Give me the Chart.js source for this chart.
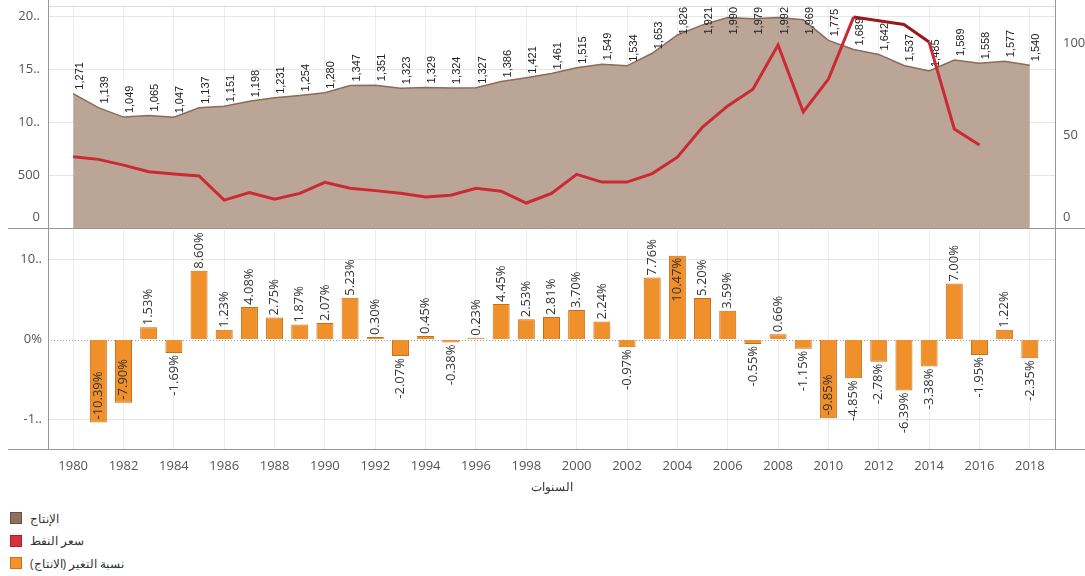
<!DOCTYPE html>
<html>
<head>
<meta charset="utf-8">
<script src="https://cdn.jsdelivr.net/npm/chart.js@4.4.1/dist/chart.umd.min.js"></script>
<style>
body { margin: 0; background: #fff; width: 1085px; height: 576px; overflow: hidden; position: relative; font-family: 'Open Sans', sans-serif; }
#top { position: absolute; left: 0; top: 0; }
#bottom { position: absolute; left: 0; top: 229px; }
.legend { position: absolute; left: 10px; top: 507px; font-size: 12px; color: #333; }
.legend div { display: flex; align-items: center; height: 22.5px; }
.legend i { display: inline-block; width: 10px; height: 10px; margin-right: 8px; border: 1px solid; }
</style>
</head>
<body>
<canvas id="top" width="1085" height="229"></canvas>
<canvas id="bottom" width="1085" height="271"></canvas>
<div class="legend">
  <div><i style="background:#8e7062;border-color:#6a4e40"></i><span dir="rtl">الإنتاج</span></div>
  <div><i style="background:#d8323d;border-color:#a8202a"></i><span dir="rtl">سعر النفط</span></div>
  <div><i style="background:#f0952b;border-color:#c8701a"></i><span dir="rtl">نسبة التغير (الانتاج)</span></div>
</div>
<script>
const years = [1980, 1981, 1982, 1983, 1984, 1985, 1986, 1987, 1988, 1989,
    1990, 1991, 1992, 1993, 1994, 1995, 1996, 1997, 1998, 1999,
    2000, 2001, 2002, 2003, 2004, 2005, 2006, 2007, 2008, 2009,
    2010, 2011, 2012, 2013, 2014, 2015, 2016, 2017, 2018];

// الإنتاج
const production = [1271, 1139, 1049, 1065, 1047, 1137, 1151, 1198, 1231, 1254,
    1280, 1347, 1351, 1323, 1329, 1324, 1327, 1386, 1421, 1461,
    1515, 1549, 1534, 1653, 1826, 1921, 1990, 1979, 1992, 1969,
    1775, 1689, 1642, 1537, 1485, 1589, 1558, 1577, 1540];

// سعر النفط (1980 - 2016)
const oilPrice = [38.5, 37.1, 34, 30.4, 29.2, 28.1, 15.1, 19.1, 15.5, 18.7,
    24.7, 21.5, 20.2, 18.8, 16.7, 17.7, 21.5, 19.9, 13.5, 18.7,
    29, 24.8, 24.8, 29.4, 38.3, 54.6, 66, 75, 98.9, 62.7,
    80.5, 114, 112, 110, 100.5, 53.5, 44.9];

// نسبة التغير (1981 - 2018)
const changePct = [-10.39, -7.90, 1.53, -1.69, 8.60, 1.23, 4.08, 2.75, 1.87,
    2.07, 5.23, 0.30, -2.07, 0.45, -0.38, 0.23, 4.45, 2.53, 2.81,
    3.70, 2.24, -0.97, 7.76, 10.47, 5.20, 3.59, -0.55, 0.66, -1.15,
    -9.85, -4.85, -2.78, -6.39, -3.38, 7.00, -1.95, 1.22, -2.35];

const yearTicks = years.filter(y => y % 2 === 0);
const prodTicks = [0, 500, 1000, 1500, 2000];
const prodTickLabels = ['0', '500', '10..', '15..', '20..'];
const priceTicks = [0, 50, 100];
const pctTicks = [-10, 0, 10];
const pctTickLabels = ['-1..', '0%', '10..'];

const tickFont = { family: 'Open Sans', size: 13 };

// fixed axis width, and no extra room kept for half tick labels
function fixWidth(w) {
    return s => {
        s.width = w;
        s.paddingTop = 0;
        s.paddingBottom = 0;
    };
}

// plot frame: side lines + long bottom line
const frame = {
    id: 'frame',
    beforeDatasetsDraw(chart) {
        if (chart.canvas.id !== 'bottom') return;
        const { ctx, chartArea: a } = chart;
        const y0 = Math.round(chart.scales.y.getPixelForValue(0)) + 0.5;
        ctx.save();
        ctx.strokeStyle = '#9a9a9a';
        ctx.setLineDash([1, 2]);
        ctx.beginPath();
        ctx.moveTo(a.left, y0);
        ctx.lineTo(a.right, y0);
        ctx.stroke();
        ctx.restore();
    },
    afterDraw(chart) {
        const { ctx, chartArea: a, width } = chart;
        ctx.save();
        if (chart.canvas.id === 'top') {
            ctx.strokeStyle = '#dddddd';
            ctx.beginPath();
            ctx.moveTo(a.left, a.top + 0.5);
            ctx.lineTo(a.right, a.top + 0.5);
            ctx.stroke();
            // the zero labels sit a little above the bottom edge
            ctx.font = '13px "Open Sans"';
            ctx.fillStyle = '#555';
            ctx.textBaseline = 'middle';
            ctx.textAlign = 'right';
            ctx.fillText('0', a.left - 8, a.bottom - 11);
            ctx.textAlign = 'left';
            ctx.fillText('0', a.right + 8, a.bottom - 11);
        }
        ctx.strokeStyle = '#999999';
        ctx.lineWidth = 1;
        ctx.beginPath();
        ctx.moveTo(a.left + 0.5, 0);
        ctx.lineTo(a.left + 0.5, a.bottom);
        ctx.moveTo(a.right + 0.5, 0);
        ctx.lineTo(a.right + 0.5, a.bottom);
        ctx.moveTo(8, a.bottom + 0.5);
        ctx.lineTo(width, a.bottom + 0.5);
        ctx.stroke();
        ctx.restore();
    }
};

// production labels, drawn right after the area so the price line goes over them
const prodLabels = {
    id: 'prodLabels',
    afterDatasetDraw(chart, args) {
        if (args.index !== 0) return;
        const { ctx, chartArea: a } = chart;
        ctx.save();
        ctx.font = '11px "Liberation Sans"';
        ctx.fillStyle = '#222222';
        ctx.textAlign = 'left';
        ctx.textBaseline = 'top';
        args.meta.data.forEach((pt, i) => {
            const txt = production[i].toLocaleString('en-US');
            const w = ctx.measureText(txt).width;
            let y = pt.y - 4;
            if (y - w < a.top + 1) y = a.top + 1 + w;
            ctx.save();
            ctx.translate(pt.x + 1, y);
            ctx.rotate(-Math.PI / 2);
            ctx.fillText(txt, 0, 0);
            ctx.restore();
        });
        ctx.restore();
    }
};

const pctLabels = {
    id: 'pctLabels',
    afterDatasetsDraw(chart) {
        const { ctx, chartArea: a } = chart;
        const meta = chart.getDatasetMeta(0);
        ctx.save();
        ctx.font = '13px "Open Sans"';
        ctx.fillStyle = '#333333';
        ctx.textBaseline = 'middle';
        meta.data.forEach((bar, i) => {
            const v = changePct[i];
            const txt = v.toFixed(2) + '%';
            const w = ctx.measureText(txt).width;
            let y, align;
            if (v >= 0) {
                if (bar.y - 2 - w >= a.top) { y = bar.y - 2; align = 'left'; }
                else { y = bar.y + 2; align = 'right'; }
            } else {
                if (bar.y + 2 + w <= a.bottom - 8) { y = bar.y + 2; align = 'right'; }
                else { y = bar.y - 3; align = 'left'; }
            }
            ctx.save();
            ctx.translate(bar.x, y);
            ctx.rotate(-Math.PI / 2);
            ctx.textAlign = align;
            ctx.fillText(txt, 0, 0);
            ctx.restore();
        });
        ctx.restore();
    }
};

new Chart(document.getElementById('top'), {
    type: 'line',
    data: {
        datasets: [{
            label: 'الإنتاج',
            data: years.map((y, i) => ({ x: y, y: production[i] })),
            yAxisID: 'y',
            backgroundColor: '#bba597',
            borderColor: '#8a6b5c',
            borderWidth: 1.5,
            fill: 'origin',
            pointRadius: 0,
            tension: 0,
            order: 2
        }, {
            label: 'سعر النفط',
            data: oilPrice.map((p, i) => ({ x: years[i], y: p })),
            yAxisID: 'y1',
            borderColor: '#cc2a33',
            borderWidth: 3,
            fill: false,
            pointRadius: 0,
            tension: 0,
            order: 1,
            segment: {
                borderColor: c => {
                    const prod = c.chart.getDatasetMeta(0).data;
                    const a = prod[c.p0DataIndex], b = prod[c.p1DataIndex];
                    return (a && b && c.p0.y < a.y && c.p1.y < b.y) ? '#981a20' : '#cc2a33';
                }
            }
        }]
    },
    options: {
        responsive: false,
        animation: false,
        layout: { padding: { top: 6, bottom: 1 } },
        plugins: { legend: { display: false }, tooltip: { enabled: false } },
        scales: {
            x: {
                type: 'linear',
                min: 1979,
                max: 2019,
                afterBuildTicks: s => { s.ticks = yearTicks.map(v => ({ value: v })); },
                afterFit: s => { s.height = 0; },
                ticks: { display: false },
                grid: { color: '#ececec', drawTicks: false },
                border: { display: false }
            },
            y: {
                position: 'left',
                min: 0,
                max: 2100,
                afterBuildTicks: s => { s.ticks = prodTicks.map(v => ({ value: v })); },
                afterFit: fixWidth(48),
                ticks: {
                    font: tickFont,
                    color: '#555',
                    padding: 8,
                    callback: v => v === 0 ? '' : prodTickLabels[prodTicks.indexOf(v)]
                },
                grid: { color: '#e6e6e6', drawTicks: false },
                border: { display: false }
            },
            y1: {
                position: 'right',
                min: 0,
                max: 120,
                afterBuildTicks: s => { s.ticks = priceTicks.map(v => ({ value: v })); },
                afterFit: fixWidth(30),
                ticks: { font: tickFont, color: '#555', padding: 8, callback: v => v === 0 ? '' : String(v) },
                grid: { drawOnChartArea: false, drawTicks: false },
                border: { display: false }
            }
        }
    },
    plugins: [frame, prodLabels]
});

new Chart(document.getElementById('bottom'), {
    type: 'bar',
    data: {
        datasets: [{
            label: 'نسبة التغير (الانتاج)',
            data: years.slice(1).map((y, i) => ({ x: y, y: changePct[i] })),
            backgroundColor: '#f0902a',
            borderColor: '#c96d17',
            borderWidth: 1,
            barPercentage: 0.75,
            categoryPercentage: 0.9
        }]
    },
    options: {
        responsive: false,
        animation: false,
        layout: { padding: { top: 1, right: 30 } },
        plugins: { legend: { display: false }, tooltip: { enabled: false } },
        scales: {
            x: {
                type: 'linear',
                offset: false,
                min: 1979,
                max: 2019,
                afterBuildTicks: s => { s.ticks = yearTicks.map(v => ({ value: v })); },
                afterFit: s => { s.height = 51; },
                ticks: { font: tickFont, color: '#555', padding: 9, maxRotation: 0, autoSkip: false, callback: v => String(v) },
                grid: { color: '#ececec', drawTicks: false, offset: false },
                border: { display: false },
                title: { display: true, text: 'السنوات', font: { family: 'Open Sans', size: 12 }, color: '#333', padding: { top: 0, bottom: 5 } }
            },
            y: {
                min: -13.7,
                max: 13.7,
                afterBuildTicks: s => { s.ticks = pctTicks.map(v => ({ value: v })); },
                afterFit: fixWidth(48),
                ticks: {
                    font: tickFont,
                    color: '#555',
                    padding: 6,
                    callback: v => pctTickLabels[pctTicks.indexOf(v)]
                },
                grid: { color: c => c.tick && c.tick.value === 0 ? 'rgba(0,0,0,0)' : '#e6e6e6', drawTicks: false },
                border: { display: false }
            }
        }
    },
    plugins: [frame, pctLabels]
});
</script>
</body>
</html>
